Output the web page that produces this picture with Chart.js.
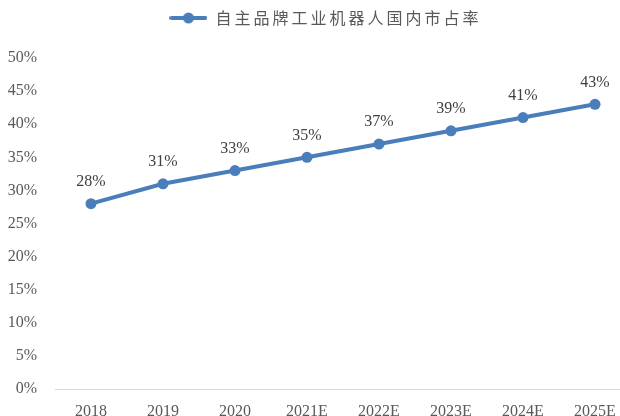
<!DOCTYPE html>
<html>
<head>
<meta charset="utf-8">
<script src="https://cdn.jsdelivr.net/npm/chart.js@4"></script>
<style>
html,body{margin:0;padding:0;background:#fff;overflow:hidden;}
#wrap{width:640px;height:416px;}
</style>
</head>
<body>
<div id="wrap"><canvas id="c" width="640" height="416"></canvas></div>
<script>
const categories = ['2018','2019','2020','2021E','2022E','2023E','2024E','2025E'];
const shareValues = [28, 31, 33, 35, 37, 39, 41, 43];
const seriesName = '自主品牌工业机器人国内市占率';
const yTicks = {min: 0, max: 50, step: 5};

const COLOR = '#4a7ebb';
const SERIF = '"Liberation Serif", "Times New Roman", serif';
const CJK = '"Noto Sans CJK SC", sans-serif';

// legend sample: line with a dot
const sample = document.createElement('canvas');
sample.width = 38; sample.height = 12;
(function(){
  const g = sample.getContext('2d');
  g.strokeStyle = COLOR; g.lineWidth = 4; g.lineCap = 'round';
  g.beginPath(); g.moveTo(2, 6); g.lineTo(36, 6); g.stroke();
  g.fillStyle = COLOR; g.beginPath(); g.arc(19, 6, 5.5, 0, Math.PI*2); g.fill();
})();

const legendSpacing = {
  id: 'legendSpacing',
  afterInit(chart) {
    const lg = chart.legend;
    if (!lg) return;
    const ofit = lg.fit, odraw = lg.draw;
    lg.fit = function() {
      const ctx = this.ctx; ctx.save(); ctx.letterSpacing = '3px';
      ofit.apply(this, arguments); ctx.restore();
      this.height += 22;
    };
    lg.draw = function() {
      const ctx = this.ctx; ctx.save(); ctx.letterSpacing = '3px';
      ctx.translate(10, 0);
      odraw.apply(this, arguments); ctx.restore();
    };
  }
};

const dataLabels = {
  id: 'dataLabels',
  afterDatasetsDraw(chart) {
    const ctx = chart.ctx;
    chart.data.datasets.forEach((ds, i) => {
      const meta = chart.getDatasetMeta(i);
      ctx.save();
      ctx.font = '16px ' + SERIF;
      ctx.fillStyle = '#404040';
      ctx.textAlign = 'center';
      ctx.textBaseline = 'middle';
      meta.data.forEach((pt, j) => {
        ctx.fillText(ds.data[j] + '%', pt.x, pt.y - 22);
      });
      ctx.restore();
    });
  }
};

new Chart(document.getElementById('c'), {
  type: 'line',
  data: {
    labels: categories,
    datasets: [{
      label: seriesName,
      data: shareValues,
      borderColor: COLOR,
      backgroundColor: COLOR,
      borderWidth: 4,
      pointRadius: 5.5,
      pointBackgroundColor: COLOR,
      pointBorderWidth: 0,
      pointStyle: 'circle',
      tension: 0,
      fill: false
    }]
  },
  options: {
    responsive: false,
    animation: false,
    layout: {padding: {left: 0, right: 9, top: 0, bottom: 0}},
    plugins: {
      legend: {
        display: true,
        position: 'top',
        labels: {
          usePointStyle: true,
          pointStyleWidth: 38,
          padding: 10,
          color: '#595959',
          font: {family: CJK, size: 16},
          generateLabels(chart) {
            return chart.data.datasets.map((ds, i) => ({
              text: ds.label, pointStyle: sample, fillStyle: COLOR,
              strokeStyle: COLOR, lineWidth: 0, hidden: false, datasetIndex: i,
              fontColor: '#595959'
            }));
          }
        }
      },
      tooltip: {enabled: false},
      title: {display: false}
    },
    scales: {
      x: {
        type: 'category',
        offset: true,
        grid: {display: false},
        border: {display: true, color: '#d9d9d9', width: 1},
        ticks: {color: '#595959', font: {family: SERIF, size: 16}, padding: 5, maxRotation: 0, autoSkip: false},
        afterFit(s) { s.height = 27; }
      },
      y: {
        min: yTicks.min, max: yTicks.max,
        grid: {display: false},
        border: {display: false},
        ticks: {
          stepSize: yTicks.step,
          color: '#595959',
          font: {family: SERIF, size: 16},
          padding: 10,
          callback: v => v + '%'
        },
        afterFit(s) { s.width = 55; }
      }
    }
  },
  plugins: [legendSpacing, dataLabels]
});
</script>
</body>
</html>
